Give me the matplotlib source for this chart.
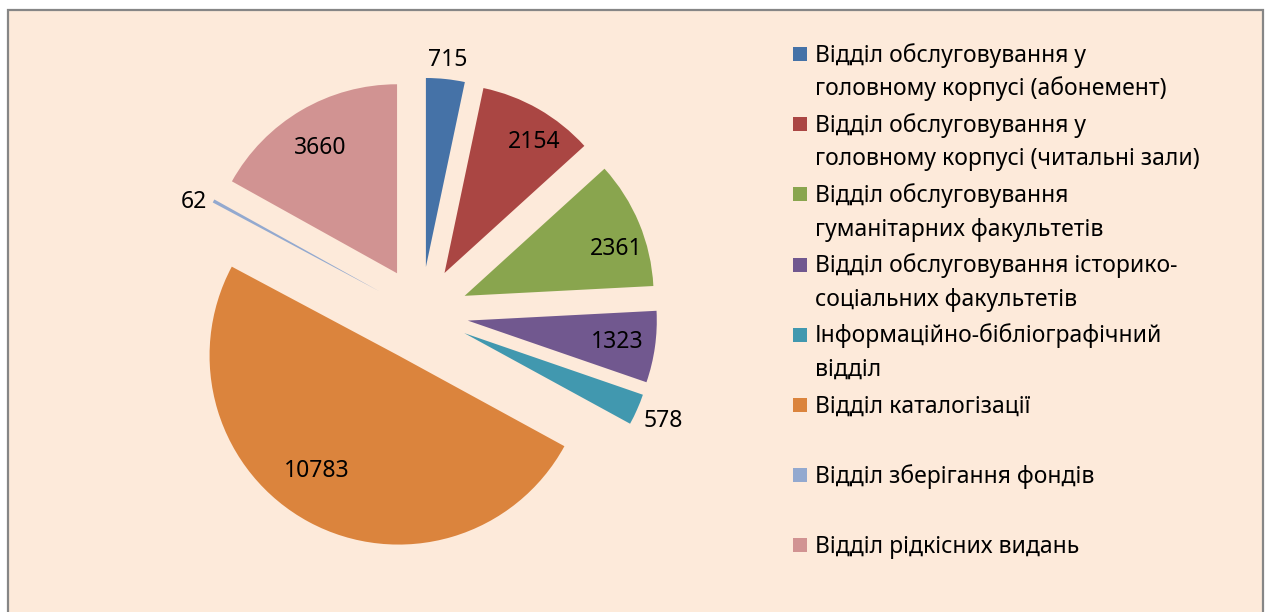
import numpy as np
import matplotlib
matplotlib.use("Agg")
import matplotlib.pyplot as plt
from matplotlib.patches import Rectangle

plt.rcParams['font.family'] = ['Noto Sans', 'DejaVu Sans']

# data
departments = [
    "Відділ обслуговування у\nголовному корпусі (абонемент)",
    "Відділ обслуговування у\nголовному корпусі (читальні зали)",
    "Відділ обслуговування\nгуманітарних факультетів",
    "Відділ обслуговування історико-\nсоціальних факультетів",
    "Інформаційно-бібліографічний\nвідділ",
    "Відділ каталогізації",
    "Відділ зберігання фондів",
    "Відділ рідкісних видань",
]
counts = [715, 2154, 2361, 1323, 578, 10783, 62, 3660]
colors = ["#4572A7", "#AA4643", "#89A54E", "#71588F",
          "#4198AF", "#DB843D", "#93A9CF", "#D19392"]
# label placement: distance from the (exploded) slice tip in radii,
# and a small angular nudge like Excel's "best fit"
label_dist = [1.10, 0.84, 0.84, 0.80, 1.15, 0.75, 1.09, 0.775]
label_rot = [0, -4.5, -5.5, 0, 0, -7, 3, 1]

W, H = 1269, 612
fs = 16.5
fig = plt.figure(figsize=(W / 100, H / 100), dpi=100)
fig.patch.set_facecolor("white")

# chart area frame (bottom edge runs off the picture)
frame = Rectangle((8 / W, -10 / H), 1255 / W, 1.0,
                  transform=fig.transFigure, facecolor="#FDEADA",
                  edgecolor="#868686", linewidth=1.6, zorder=0)
fig.add_artist(frame)

# pie axes: square of 600 px around the pie centre
cx, cy, R = 421, 314, 189
half = 300
ax = fig.add_axes([(cx - half) / W, (H - cy - half) / H, 2 * half / W, 2 * half / H])

wedges, _ = ax.pie(counts, colors=colors, startangle=90, counterclock=False,
                   explode=[0.25] * len(counts), radius=1.0,
                   wedgeprops=dict(linewidth=0))
ax.set_xlim(-half / R, half / R)
ax.set_ylim(-half / R, half / R)
ax.axis("off")
ax.patch.set_alpha(0)

for w, val, d, rot in zip(wedges, counts, label_dist, label_rot):
    ang = np.deg2rad((w.theta1 + w.theta2) / 2 + rot)
    x0, y0 = w.center
    ax.text(x0 + d * w.r * np.cos(ang), y0 + d * w.r * np.sin(ang), str(val),
            ha="center", va="center", fontsize=fs, color="black")

# legend drawn by hand so that one-line entries keep the same slot spacing
for i, (name, col) in enumerate(zip(departments, colors)):
    yc = 54 + 70.2 * i
    fig.add_artist(Rectangle((793 / W, 1 - (yc + 7) / H), 14 / W, 14 / H,
                             transform=fig.transFigure, facecolor=col,
                             edgecolor="none"))
    for j, line in enumerate(name.split("\n")):
        fig.text(815 / W, 1 - (yc + 7.5 + 33.7 * j) / H, line,
                 ha="left", va="baseline", fontsize=fs, color="black")

fig.savefig("out.png", dpi=100, facecolor=fig.get_facecolor())
